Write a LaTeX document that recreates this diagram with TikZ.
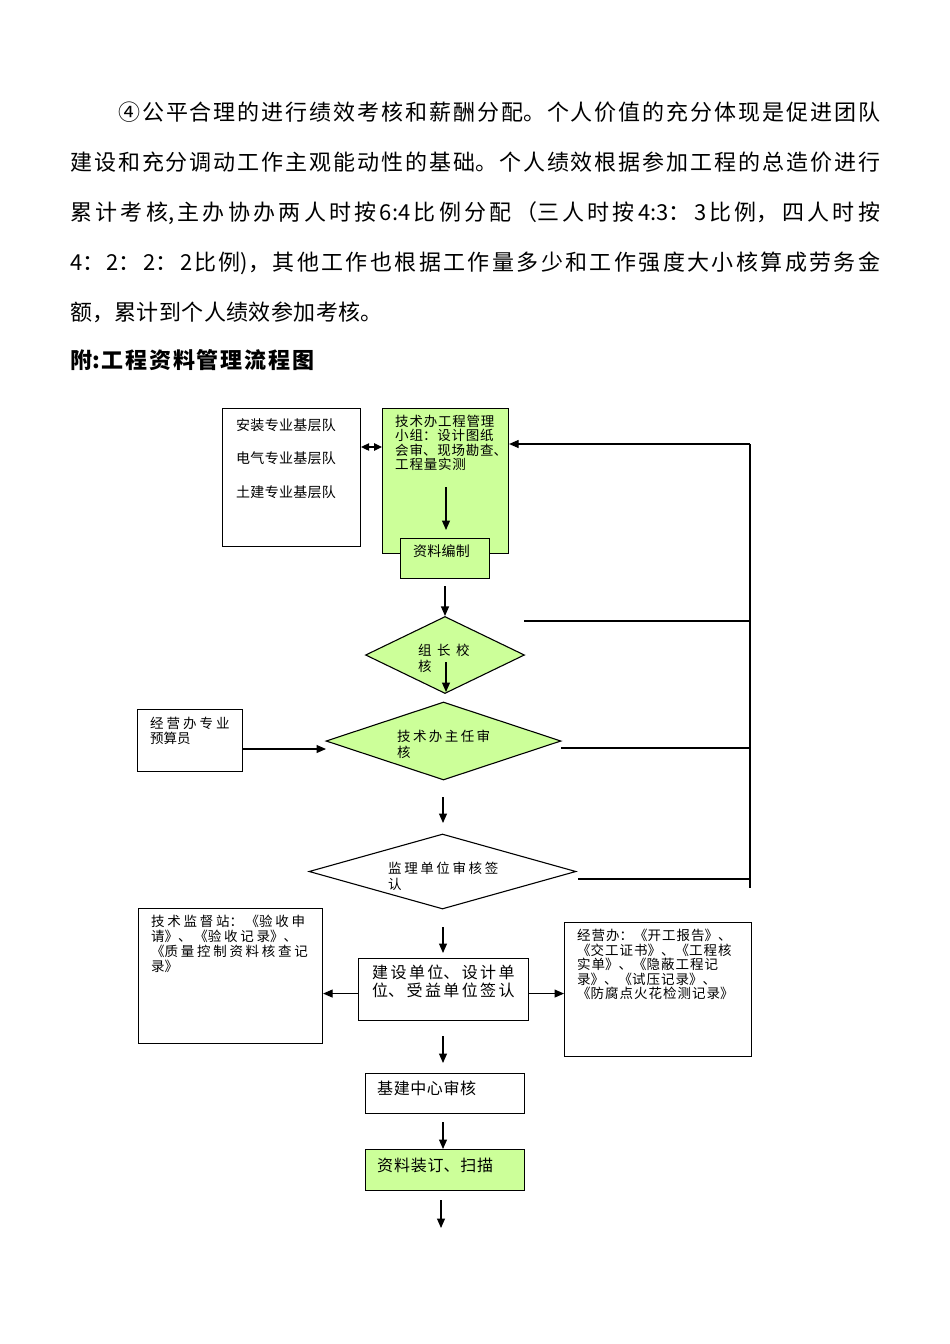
\documentclass[tikz,border=0pt]{standalone}
\usepackage{fontspec}
\setmainfont{Noto Sans CJK SC}
\usetikzlibrary{shapes.geometric,arrows.meta,calc}
\XeTeXlinebreaklocale "zh"
\XeTeXlinebreakskip=0pt
\definecolor{lgreen}{HTML}{CCFF99}
\newcommand\fz[3]{\fontsize{#1}{#2}\selectfont\XeTeXlinebreakskip=#3\relax}
\newcommand\mline{\fontsize{22}{26}\selectfont\XeTeXlinebreakskip=0pt plus 8pt\parfillskip=0pt\relax}
\begin{document}
\begin{tikzpicture}[x=1pt,y=-1pt,
  bx/.style={draw=black, line width=1.1pt, anchor=north west, inner sep=0pt, fill=white},
  gbx/.style={bx, fill=lgreen},
  dm/.style={diamond, draw=black, line width=1.1pt, inner sep=0pt},
  tx/.style={anchor=north west, inner sep=0pt, text width=260pt, align=left},
  arr/.style={-{Triangle[length=9.5pt,width=8pt]}, line width=1.1pt},
  ln/.style={line width=1.1pt}]
\fill[white] (0,0) rectangle (950,1344);
\useasboundingbox (0,0) rectangle (950,1344);

% paragraph text
\node[anchor=base west, inner sep=0pt] (p1) at (118,120.4) {\parbox[b]{762pt}{\mline ④公平合理的进行绩效考核和薪酬分配。个人价值的充分体现是促进团队}};
\node[anchor=base west, inner sep=0pt] (p2) at (70,170.4) {\parbox[b]{810pt}{\mline 建设和充分调动工作主观能动性的基础。个人绩效根据参加工程的总造价进行}};
\node[anchor=base west, inner sep=0pt] (p3) at (70,220.4) {\parbox[b]{810pt}{\mline 累计考核,主办协办两人时按6:4比例分配（三人时按4:3：3比例，四人时按}};
\node[anchor=base west, inner sep=0pt] (p4) at (70,270.4) {\parbox[b]{810pt}{\mline 4：2：2：2比例)，其他工作也根据工作量多少和工作强度大小核算成劳务金}};
\node[anchor=base west, inner sep=0pt, font=\fz{22}{26}{0.4pt}] (p5) at (70,320.4) {\parbox[b]{500pt}{额，累计到个人绩效参加考核。}};
\node[anchor=base west, inner sep=0pt, font=\fz{22}{26}{1.8pt}\bfseries] (hd) at (70,368.4) {\parbox[b]{500pt}{附:工程资料管理流程图}};

% boxes
\node[bx, minimum width=138pt, minimum height=138pt] (A) at (222,408) {};
\node[gbx, minimum width=126pt, minimum height=145pt] (B) at (382,408) {};
\node[gbx, minimum width=89pt, minimum height=40pt] (C) at (400,538) {};
\node[dm, fill=lgreen, minimum width=159pt, minimum height=77pt] (D1) at (445,655) {};
\node[bx, minimum width=105pt, minimum height=62pt] (E) at (137,709) {};
\node[dm, fill=lgreen, minimum width=235pt, minimum height=78pt] (D2) at (443.5,741) {};
\node[dm, fill=white, minimum width=267pt, minimum height=75pt] (D3) at (442.5,871.5) {};
\node[bx, minimum width=184pt, minimum height=135pt] (G) at (138,908) {};
\node[bx, minimum width=170pt, minimum height=62pt] (F) at (358,958) {};
\node[bx, minimum width=187pt, minimum height=134pt] (H) at (564,922) {};
\node[bx, minimum width=159pt, minimum height=40pt] (I) at (365,1073) {};
\node[gbx, minimum width=159pt, minimum height=41pt] (J) at (365,1149) {};

% texts
\node[tx, font=\fz{14}{33.5}{0.3pt}] (At) at (236,418.5) {安装专业基层队\\电气专业基层队\\土建专业基层队};
\node[tx, font=\fz{13.5}{14.5}{0.8pt}] (Bt) at (395,414.5) {技术办工程管理\\小组：设计图纸\\会审、现场勘查、\\工程量实测};
\node[tx, font=\fz{14}{16}{0.2pt}] (Ct) at (413,544.5) {资料编制};
\node[tx, font=\fz{13.5}{16}{5.5pt}] (D1t) at (418,644) {组长校\\核};
\node[tx, font=\fz{13.5}{16}{2.4pt}] (D2t) at (397,730) {技术办主任审\\核};
\node[tx, font=\fz{13.5}{16}{2.6pt}] (D3t) at (388,862) {监理单位审核签\\认};
\node[tx, font=\fz{13.5}{15}{0pt}] (Et) at (150,717) {经\hspace{3pt}营\hspace{3pt}办\hspace{3pt}专\hspace{3pt}业\\预算员};
\node[tx, font=\fz{16}{18}{2.4pt}] (Ft) at (372,965) {建设单位、设计单\\位、受益单位签认};
\node[tx, font=\fz{13.5}{15}{2.7pt}] (Gt) at (151,915) {技术监督站：《验收申\\请》、《验收记录》、\\《质量控制资料核查记\\录》};
\node[tx, font=\fz{13.5}{14.5}{1pt}] (Ht) at (577,929) {经营办：《开工报告》、\\《交工证书》、《工程核\\实单》、《隐蔽工程记\\录》、《试压记录》、\\《防腐点火花检测记录》};
\node[tx, font=\fz{16}{18}{0.6pt}] (It) at (377,1081) {基建中心审核};
\node[tx, font=\fz{16}{18}{0.8pt}] (Jt) at (377,1158) {资料装订、扫描};

% free-end coordinates
\coordinate (b1) at (446,487);
\coordinate (b2) at (446,530);
\coordinate (c1) at (445,586);
\coordinate (d1a) at (446,662);
\coordinate (d1b) at (446,692);
\coordinate (d2a) at (443,797);
\coordinate (d2b) at (443,823);
\coordinate (d3a) at (443,927);
\coordinate (d3b) at (443,953);
\coordinate (fa) at (443,1036);
\coordinate (fb) at (443,1063);
\coordinate (ia) at (443,1122);
\coordinate (ja) at (441,1200);
\coordinate (jb) at (441,1228);
\coordinate (e2) at (326,749);
\coordinate (r0) at (750,444);
\coordinate (r1) at (750,888);
\coordinate (f1) at (524,621);
\coordinate (f2) at (561,748);
\coordinate (f3) at (578,879);

% connectors
\draw[{Triangle[length=8pt,width=7.5pt]}-{Triangle[length=8pt,width=7.5pt]}, line width=1.1pt]
  ($(A.north east)+(0,39)$) -- ($(B.north west)+(0,39)$);
\draw[arr] (b1) -- (b2);
\draw[arr] (D1.north |- c1) -- (D1.north);
\draw[arr] (d1a) -- (d1b);
\draw[arr] (E.east |- e2) -- (e2);
\draw[arr] (d2a) -- (d2b);
\draw[arr] (d3a) -- (d3b);
\draw[arr] ($(F.west)+(0,4)$) -- ($(F.west -| G.east)+(0,4)$);
\draw[arr] ($(F.east)+(0,4)$) -- ($(F.east -| H.west)+(0,4)$);
\draw[arr] (fa) -- (fb);
\draw[arr] (ia) -- (ia |- J.north);
\draw[arr] (ja) -- (jb);
\draw[ln] (r0) -- (r1);
\draw[arr] (r0) -- (r0 -| B.east);
\draw[ln] (f1) -- (f1 -| r0);
\draw[ln] (f2) -- (f2 -| r0);
\draw[ln] (f3) -- (f3 -| r0);
\end{tikzpicture}
\end{document}
